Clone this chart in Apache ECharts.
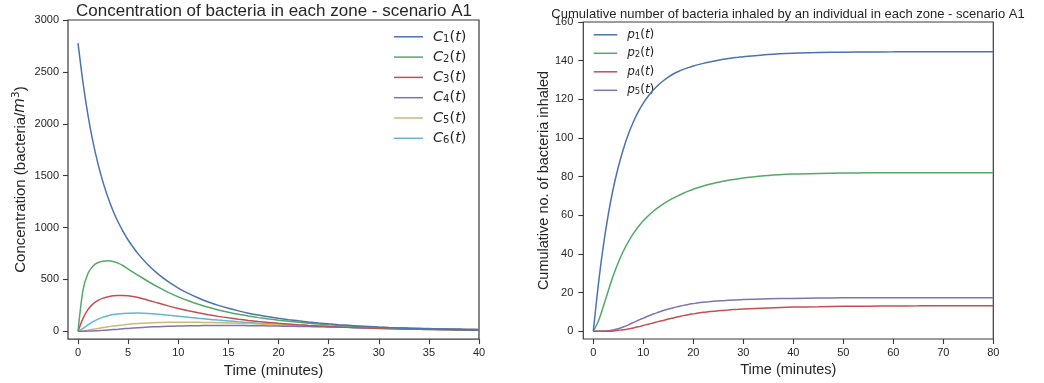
<!DOCTYPE html>
<html>
<head>
<meta charset="utf-8">
<script src="https://cdn.jsdelivr.net/npm/echarts@6/dist/echarts.min.js"></script>
<style>html,body{margin:0;padding:0;background:#fff;}#c{width:1044px;height:383px;}</style>
</head>
<body>
<div id="c"></div>
<script>
// ---- Left chart: concentration (bacteria/m^3) vs time (minutes)
const timeLeft = [0,0.5,1,1.5,2,2.5,3,3.5,4,4.5,5,6,7,8,9,10,11,12,13,14,15,16,17,18,19,20,21,22,23,24,25,26,27,28,29,30,31,32,33,34,35,36,37,38,39,40];
const C1 = [2778,2395,2079,1820,1611,1435,1286,1160,1053,960,880,746,639,551,478,417,365,321,283,250,222,197,175,157,140,126,112.6,100.7,90,80.5,72,64.3,57.5,51.4,46,41,36.7,32.8,29.3,26.2,23.5,21,18.8,16.8,15,13.4];
const C2 = [0,400,560,630,663,676,679,673,657,632,600,540,480,425,375,332,294,261,232,206,184,164,147,132,119,107,96,87,78,70,63,57,51,46,41.5,37.5,34,30.5,27.5,25,22.5,20,18,16.5,15,13.5];
const C3 = [0,125,212,265,298,320,334,342,346,346,343,325,300,272,245,220,198,178,160,144,130,117,105,95,86,77.5,70,63,57,51.5,46.5,42,38,34.5,31,28,25.5,23,21,19,17.2,15.6,14.2,12.9,11.8,10.8];
const C4 = [0,0.5,2,4,6.5,9.5,13,16.5,20,24,28,35,40.5,45,48.5,51,53,54.5,55.5,56,56,55.5,54.5,53.5,52,50.5,49,47.5,45.5,44,42,40.5,38.5,37,35,33.5,32,30.5,29,27.5,26,24.5,23,21.5,20,18.5];
const C5 = [0,4,11,19,28,36,44,51,57,62,67,75,80.5,84,86.5,87.5,87.5,86.5,85,83,80.5,77.5,74.5,71,67.5,64,60.5,57,54,51,48,45,42,39.5,37,34.5,32,30,28,26,24,22.5,21,19.5,18,16.5];
const C6 = [0,28,62,93,118,137,151,161,168,172.5,175,175.5,172,165,156,146,136,126,117,108,100,92,85,78,72,66,61,56,51.5,47.5,43.5,40,37,34,31,28.5,26,24,22,20,18.5,17,15.5,14,13,12];
const leftNames = ['C1(t)','C2(t)','C3(t)','C4(t)','C5(t)','C6(t)'];
const leftTicksX = [0,5,10,15,20,25,30,35,40];
const leftTicksY = [0,500,1000,1500,2000,2500,3000];

// ---- Right chart: cumulative bacteria inhaled vs time (minutes)
const timeRight = [0,1,2,3,4,5,6,7,8,9,10,11,12,13,14,15,16,17,18,19,20,21,22,23,24,25,26,27,28,29,30,35,40,45,50,55,60,65,70,75,80];
const P1 = [0,24,44,60.5,74,85,94.2,101.9,108.3,113.6,118,121.7,124.8,127.4,129.6,131.5,133.1,134.4,135.5,136.4,137.2,137.95,138.6,139.2,139.75,140.25,140.7,141.1,141.45,141.75,142.05,143.2,143.85,144.2,144.4,144.5,144.55,144.6,144.6,144.6,144.6];
const P2 = [0,5.2,12.8,21,28.8,35.6,41.4,46.3,50.5,54.1,57.2,59.8,62.1,64.1,65.9,67.5,68.9,70.2,71.4,72.5,73.5,74.4,75.2,75.9,76.5,77.1,77.6,78.1,78.5,78.9,79.3,80.6,81.3,81.65,81.85,81.95,82,82,82,82,82];
const P4 = [0,0,0.02,0.05,0.2,0.5,0.8,1.2,1.7,2.3,3,3.6,4.3,5,5.6,6.3,6.9,7.5,8.1,8.6,9,9.4,9.8,10.1,10.4,10.6,10.8,11,11.2,11.35,11.5,12.1,12.5,12.7,12.9,13,13.1,13.15,13.2,13.2,13.2];
const P5 = [0,0.02,0.1,0.3,0.7,1.3,2.2,3.3,4.5,5.7,6.8,7.9,8.9,9.8,10.7,11.5,12.2,12.8,13.4,13.9,14.3,14.7,15,15.25,15.5,15.7,15.85,16,16.15,16.3,16.4,16.8,17,17.15,17.3,17.35,17.4,17.4,17.4,17.4,17.4];
const rightNames = ['p1(t)','p2(t)','p4(t)','p5(t)'];
const rightTicksX = [0,10,20,30,40,50,60,70,80];
const rightTicksY = [0,20,40,60,80,100,120,140,160];

const palette = ['#4C72B0','#55A868','#C44E52','#8172B2','#CCB974','#64B5CD'];
const ink = '#262626';
const frame = '#3a3a3a';
const sans = 'Liberation Sans, Arial, sans-serif';
const mathFont = 'DejaVu Sans';

function pairs(xs, ys){ return xs.map((x,i)=>[x, ys[i]]); }

function mathRich(size, subSize, subShift){
  return {
    i: {fontFamily: mathFont, fontStyle:'italic', fontSize:size, color:ink},
    f: {fontFamily: mathFont, fontStyle:'italic', fontSize:size, color:ink, padding:[0,0,0,5]},
    n: {fontFamily: mathFont, fontSize:size, color:ink},
    s: {fontFamily: mathFont, fontSize:subSize, color:ink, padding:[subShift*2,0,0,0]}
  };
}
function mathLabel(name){
  const m = name.match(/^([A-Za-z])(\d)\((t)\)$/);
  return '{f|' + m[1] + '}{s|' + m[2] + '}{n|(}{i|t}{n|)}';
}

const leftSeries = [C1,C2,C3,C4,C5,C6].map((arr,i)=>({
  name: leftNames[i], type:'line', xAxisIndex:0, yAxisIndex:0,
  data: pairs(timeLeft, arr), symbol:'none', smooth:0.3,
  lineStyle:{width:1.5, color:palette[i]}, itemStyle:{color:palette[i]}, z: 10 - i
}));
const rightColors = [palette[0], palette[1], palette[2], palette[3]];
const rightSeries = [P1,P2,P4,P5].map((arr,i)=>({
  name: rightNames[i], type:'line', xAxisIndex:1, yAxisIndex:1,
  data: pairs(timeRight, arr), symbol:'none', smooth:0.3,
  lineStyle:{width:1.5, color:rightColors[i]}, itemStyle:{color:rightColors[i]}, z: 10 - i
}));

const legends = [];
leftNames.forEach((n,i)=>{
  legends.push({
    data:[n], orient:'vertical', left:394, top: 39.3 - 10 + i*20.3, padding:0,
    icon:'rect', itemWidth:29, itemHeight:1.5, selectedMode:false,
    formatter: mathLabel, textStyle:{rich: mathRich(14.5, 10, 2.2)}
  });
});
rightNames.forEach((n,i)=>{
  legends.push({
    data:[n], orient:'vertical', left:593.7, top: 37.3 - 8.5 + i*18.5, padding:0,
    icon:'rect', itemWidth:23.5, itemHeight:1.5, selectedMode:false,
    formatter: mathLabel, textStyle:{rich: mathRich(12, 8.5, 1.8)}
  });
});

const plain = v => String(v);

function xAxisCfg(idx, min, max, ticks, nameSize, gap){
  return {
    type:'value', gridIndex:idx, min:min, max:max,
    name:'Time (minutes)', nameLocation:'middle', nameGap:gap,
    nameTextStyle:{fontFamily:sans, fontSize:nameSize, color:ink},
    axisLine:{show:false, onZero:false},
    axisTick:{show:true, length:5, customValues:ticks, lineStyle:{color:frame, width:1.1}},
    axisLabel:{customValues:ticks, formatter:plain, margin:8, fontFamily:sans, fontSize:11, color:ink},
    splitLine:{show:false}
  };
}

const option = {
  animation:false,
  backgroundColor:'#ffffff',
  title:[
    {text:'Concentration of bacteria in each zone - scenario A1', left:274, top:3, textAlign:'center', padding:0,
     textStyle:{fontFamily:sans, fontSize:17, fontWeight:'normal', color:ink}},
    {text:'Cumulative number of bacteria inhaled by an individual in each zone - scenario A1', left:788, top:7.5, textAlign:'center', padding:0,
     textStyle:{fontFamily:sans, fontSize:13, fontWeight:'normal', color:ink}}
  ],
  legend: legends,
  grid:[
    {left:68, top:20, width:411, height:321, show:true, borderColor:frame, borderWidth:1.2, backgroundColor:'transparent'},
    {left:583.3, top:22, width:410, height:317, show:true, borderColor:frame, borderWidth:1.2, backgroundColor:'transparent'}
  ],
  xAxis:[
    xAxisCfg(0, -1, 40, leftTicksX, 15, 22),
    xAxisCfg(1, -2, 80, rightTicksX, 14.5, 21)
  ],
  yAxis:[
    {type:'value', gridIndex:0, min:-75, max:3000,
     name:'Concentration (bacteria/{m|m}{p|3})', nameLocation:'middle', nameGap:38, nameRotate:90,
     nameTextStyle:{fontFamily:sans, fontSize:15, color:ink,
       rich:{m:{fontFamily:mathFont, fontStyle:'italic', fontSize:15, color:ink},
             p:{fontFamily:mathFont, fontSize:10.5, color:ink, padding:[0,0,8,0]}}},
     axisLine:{show:false, onZero:false},
     axisTick:{show:true, length:5, customValues:leftTicksY, lineStyle:{color:frame, width:1.1}},
     axisLabel:{customValues:leftTicksY, formatter:plain, margin:9, fontFamily:sans, fontSize:11, color:ink},
     splitLine:{show:false}},
    {type:'value', gridIndex:1, min:-4, max:160,
     name:'Cumulative no. of bacteria inhaled', nameLocation:'middle', nameGap:30, nameRotate:90,
     nameTextStyle:{fontFamily:sans, fontSize:14.5, color:ink},
     axisLine:{show:false, onZero:false},
     axisTick:{show:true, length:5, customValues:rightTicksY, lineStyle:{color:frame, width:1.1}},
     axisLabel:{customValues:rightTicksY, formatter:plain, margin:10, fontFamily:sans, fontSize:11, color:ink},
     splitLine:{show:false}}
  ],
  series: leftSeries.concat(rightSeries)
};

const chart = echarts.init(document.getElementById('c'), null, {renderer:'canvas'});
chart.setOption(option);
</script>
</body>
</html>
